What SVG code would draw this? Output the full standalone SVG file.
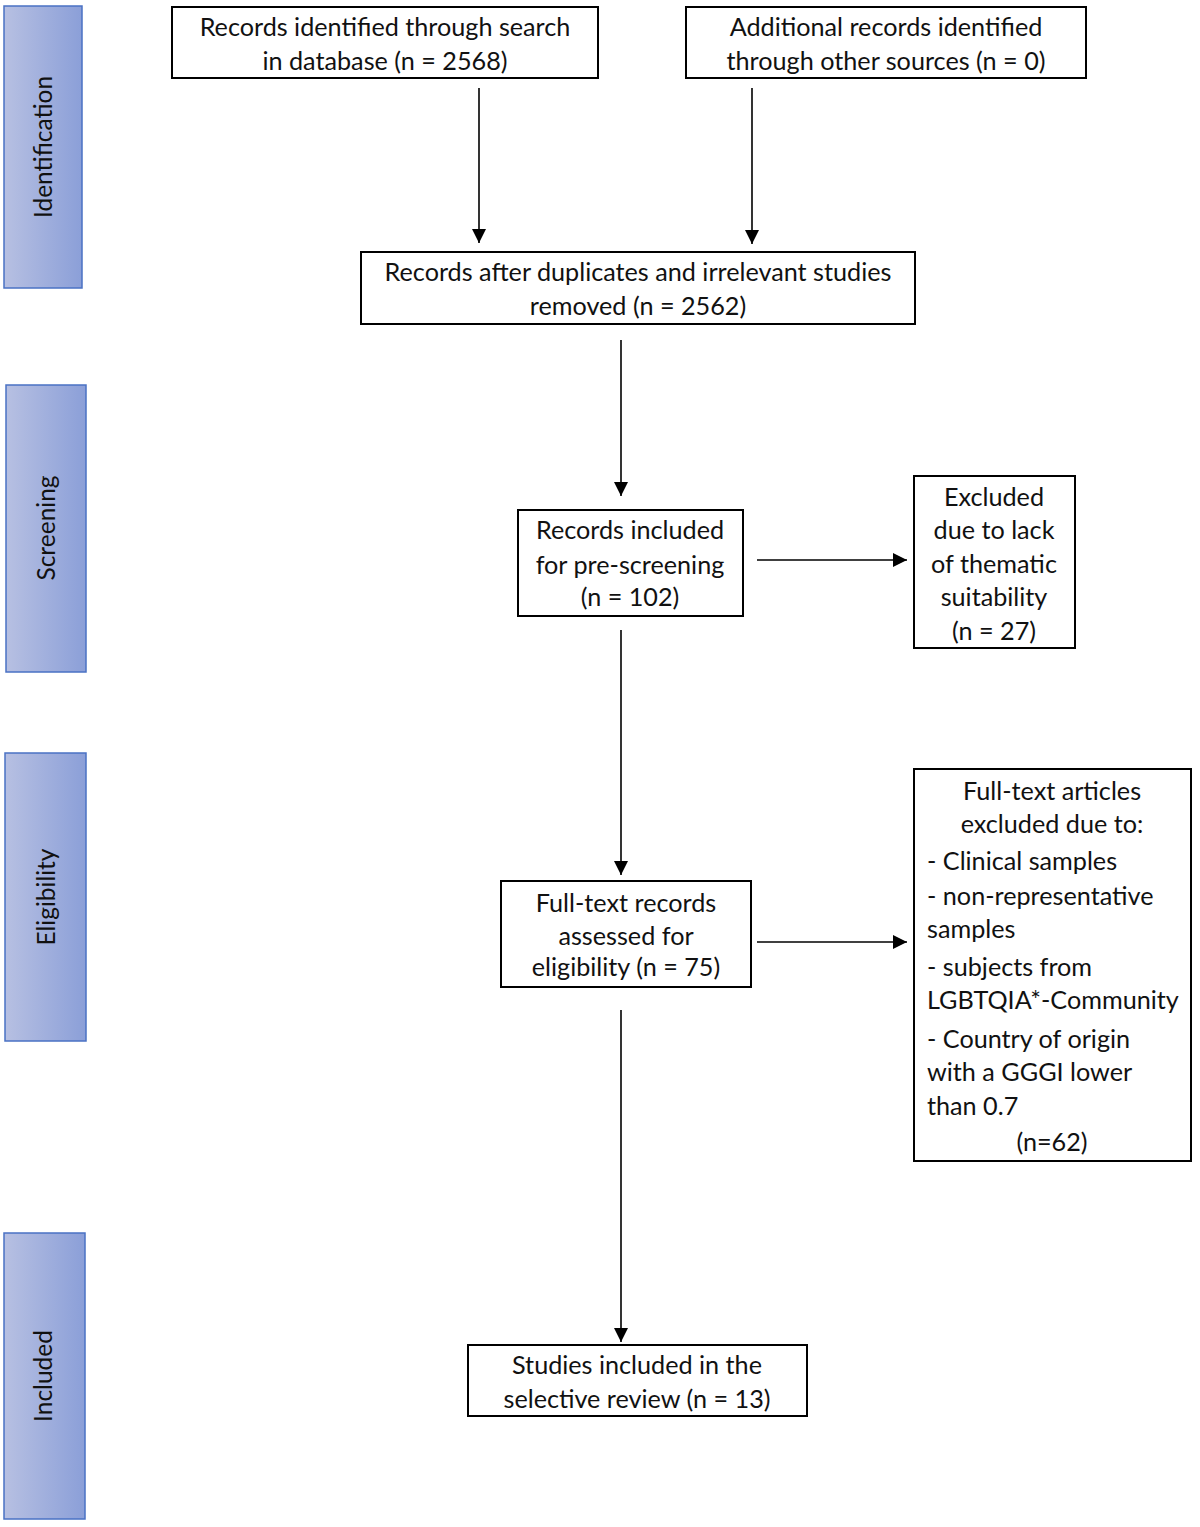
<svg xmlns="http://www.w3.org/2000/svg" width="1200" height="1527" viewBox="0 0 1200 1527">
<defs>
<linearGradient id="side" x1="0" y1="0" x2="1" y2="0">
<stop offset="0" stop-color="#b7c0e2"/>
<stop offset="1" stop-color="#8b9fd8"/>
</linearGradient>
<marker id="ah" viewBox="0 0 10 10" refX="10" refY="5" markerWidth="14" markerHeight="14" markerUnits="userSpaceOnUse" orient="auto">
<path d="M0,0 L10,5 L0,10 z" fill="#000"/>
</marker>
<style>
.box{fill:#fff;stroke:#000;stroke-width:2}
.side{fill:url(#side);stroke:#4a72c4;stroke-width:1.5}
text{font-family:Lato,"Open Sans","Liberation Sans",sans-serif;font-size:25.2px;fill:#111}
.c{text-anchor:middle}
.st{font-size:24.5px;text-anchor:middle}
.ln{stroke:#000;stroke-width:1.6;fill:none;marker-end:url(#ah)}
</style>
</defs>
<rect width="1200" height="1527" fill="#fff"/>

<g id="phase-identification">
<rect class="side" x="4" y="6" width="78" height="282"/>
<text class="st" transform="translate(52,147) rotate(-90)">Identification</text>
</g>
<g id="phase-screening">
<rect class="side" x="6" y="385" width="80" height="287"/>
<text class="st" transform="translate(55,528) rotate(-90)">Screening</text>
</g>
<g id="phase-eligibility">
<rect class="side" x="5" y="753" width="81" height="288"/>
<text class="st" transform="translate(55,897) rotate(-90)">Eligibility</text>
</g>
<g id="phase-included">
<rect class="side" x="4" y="1233" width="81" height="286"/>
<text class="st" transform="translate(52,1376) rotate(-90)">Included</text>
</g>

<g id="n-database">
<rect class="box" x="172" y="7" width="426" height="71"/>
<text class="c" x="385" y="36">Records identified through search</text>
<text class="c" x="385" y="70">in database (n = 2568)</text>
</g>
<g id="n-other">
<rect class="box" x="686" y="7" width="400" height="71"/>
<text class="c" x="886" y="36">Additional records identified</text>
<text class="c" x="886" y="70">through other sources (n = 0)</text>
</g>
<g id="n-dedup">
<rect class="box" x="361" y="252" width="554" height="72"/>
<text class="c" x="638" y="281">Records after duplicates and irrelevant studies</text>
<text class="c" x="638" y="315">removed (n = 2562)</text>
</g>
<g id="n-prescreen">
<rect class="box" x="518" y="510" width="225" height="106"/>
<text class="c" x="630" y="539">Records included</text>
<text class="c" x="630" y="574">for pre-screening</text>
<text class="c" x="630" y="606">(n = 102)</text>
</g>
<g id="n-excluded1">
<rect class="box" x="914" y="476" width="161" height="172"/>
<text class="c" x="994" y="506">Excluded</text>
<text class="c" x="994" y="539">due to lack</text>
<text class="c" x="994" y="573">of thematic</text>
<text class="c" x="994" y="606">suitability</text>
<text class="c" x="994" y="640">(n = 27)</text>
</g>
<g id="n-fulltext">
<rect class="box" x="501" y="881" width="250" height="106"/>
<text class="c" x="626" y="912">Full-text records</text>
<text class="c" x="626" y="945">assessed for</text>
<text class="c" x="626" y="976">eligibility (n = 75)</text>
</g>
<g id="n-excluded2">
<rect class="box" x="914" y="769" width="277" height="392"/>
<text class="c" x="1052" y="800">Full-text articles</text>
<text class="c" x="1052" y="833">excluded due to:</text>
<text x="927" y="870">- Clinical samples</text>
<text x="927" y="905">- non-representative</text>
<text x="927" y="938">samples</text>
<text x="927" y="976">- subjects from</text>
<text x="927" y="1009">LGBTQIA*-Community</text>
<text x="927" y="1048">- Country of origin</text>
<text x="927" y="1081">with a GGGI lower</text>
<text x="927" y="1115">than 0.7</text>
<text class="c" x="1052" y="1151">(n=62)</text>
</g>
<g id="n-included">
<rect class="box" x="468" y="1345" width="339" height="71"/>
<text class="c" x="637" y="1374">Studies included in the</text>
<text class="c" x="637" y="1408">selective review (n = 13)</text>
</g>

<g id="connectors">
<line class="ln" x1="479" y1="88" x2="479" y2="243"/>
<line class="ln" x1="752" y1="88" x2="752" y2="244"/>
<line class="ln" x1="621" y1="340" x2="621" y2="496"/>
<line class="ln" x1="757" y1="560" x2="907" y2="560"/>
<line class="ln" x1="621" y1="630" x2="621" y2="875"/>
<line class="ln" x1="757" y1="942" x2="907" y2="942"/>
<line class="ln" x1="621" y1="1010" x2="621" y2="1342"/>
</g>
</svg>
